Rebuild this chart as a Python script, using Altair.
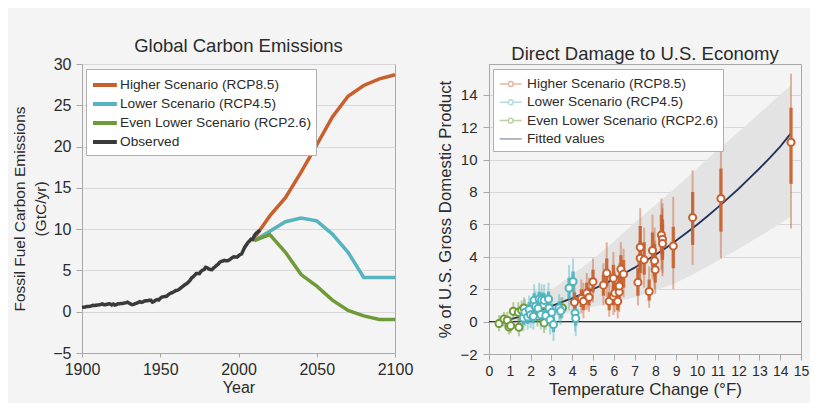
import altair as alt
import pandas as pd

FONT = "Liberation Sans"
BG = "#f4f4f4"
TXT = "#2b2b2b"

# ---------------- Left panel data ----------------
obs_years = list(range(1900, 2015))
obs_values = [
    0.53, 0.55, 0.57, 0.62, 0.62, 0.66, 0.71, 0.78, 0.75, 0.79,
    0.82, 0.84, 0.88, 0.94, 0.85, 0.84, 0.90, 0.96, 0.94, 0.81,
    0.93, 0.80, 0.85, 0.97, 0.96, 0.98, 0.98, 1.06, 1.07, 1.15,
    1.05, 0.94, 0.85, 0.89, 0.97, 1.03, 1.13, 1.21, 1.14, 1.19,
    1.30, 1.33, 1.34, 1.39, 1.38, 1.16, 1.24, 1.39, 1.47, 1.42,
    1.63, 1.77, 1.80, 1.84, 1.87, 2.04, 2.18, 2.27, 2.33, 2.46,
    2.58, 2.59, 2.70, 2.85, 3.01, 3.15, 3.31, 3.41, 3.59, 3.80,
    4.08, 4.23, 4.40, 4.64, 4.64, 4.62, 4.88, 5.03, 5.11, 5.39,
    5.33, 5.17, 5.11, 5.09, 5.28, 5.44, 5.61, 5.75, 5.97, 6.10,
    6.13, 6.22, 6.16, 6.16, 6.27, 6.40, 6.54, 6.65, 6.64, 6.61,
    6.77, 6.93, 7.00, 7.42, 7.81, 8.09, 8.37, 8.57, 8.78, 8.74,
    9.17, 9.46, 9.61, 9.77, 9.86,
]
scen_years = [2010, 2020, 2030, 2040, 2050, 2060, 2070, 2080, 2090, 2100]
rcp85 = [8.9, 11.6, 13.8, 16.9, 20.2, 23.6, 26.1, 27.4, 28.2, 28.7]
rcp45 = [8.6, 9.75, 10.9, 11.35, 11.0, 9.4, 7.2, 4.15, 4.15, 4.15]
rcp26 = [8.6, 9.35, 7.2, 4.5, 3.1, 1.4, 0.15, -0.5, -0.95, -0.95]

left_names = ["Higher Scenario (RCP8.5)", "Lower Scenario (RCP4.5)",
              "Even Lower Scenario (RCP2.6)", "Observed"]
left_colors = ["#c8602e", "#56b4be", "#6e9a37", "#3a3a3a"]
left_yticks = [-5, 0, 5, 10, 15, 20, 25, 30]
left_xticks = [1900, 1950, 2000, 2050, 2100]

# ---------------- Right panel data ----------------
o_T = [4.11, 4.44, 4.54, 4.70, 4.81, 5.00, 5.50, 5.66, 5.78, 5.98, 5.98, 6.05, 6.19, 6.26, 6.26, 6.34,
       6.47, 7.16, 7.27, 7.27, 7.46, 7.70, 7.86, 7.96, 7.99, 8.29, 8.34, 8.34, 8.86, 9.79, 11.15, 14.52]
o_v = [1.19, 1.43, 1.25, 1.76, 1.50, 2.46, 2.25, 2.99, 1.25, 1.56, 2.68, 1.76, 1.25, 1.82, 2.20, 3.24,
       2.93, 2.42, 4.59, 3.91, 3.81, 1.86, 4.39, 3.75, 3.20, 5.35, 5.08, 4.82, 4.67, 6.43, 7.60, 11.07]
o_tlo = [0.3, 0.5, 0.2, 0.7, 0.6, 1.2, 1.0, 1.5, 0.3, 0.4, 1.3, 0.6, 0.2, 0.6, 0.9, 1.7,
         1.5, 1.0, 2.6, 2.2, 2.1, 0.85, 2.6, 2.0, 1.7, 3.2, 3.0, 2.8, 2.0, 3.5, 3.9, 5.75]
o_thi = [2.3, 2.6, 2.4, 3.0, 2.7, 3.9, 3.6, 4.9, 2.4, 2.8, 4.3, 3.1, 2.5, 3.2, 3.6, 4.9,
         4.5, 4.1, 7.0, 5.9, 5.8, 3.4, 6.6, 5.8, 5.0, 7.6, 7.3, 7.0, 7.7, 9.34, 11.08, 15.3]
o_klo = [0.7, 0.9, 0.7, 1.2, 1.0, 1.8, 1.6, 2.2, 0.7, 1.0, 1.9, 1.1, 0.7, 1.2, 1.5, 2.4,
         2.1, 1.6, 3.4, 3.0, 2.9, 1.3, 3.4, 2.8, 2.4, 4.2, 4.0, 3.8, 3.3, 4.73, 5.55, 8.5]
o_khi = [1.8, 2.0, 1.8, 2.4, 2.1, 3.2, 2.9, 3.9, 1.8, 2.2, 3.5, 2.4, 1.9, 2.5, 2.9, 4.1,
         3.8, 3.3, 5.9, 5.0, 4.9, 2.6, 5.5, 4.8, 4.1, 6.6, 6.3, 6.0, 5.85, 8.0, 9.45, 13.2]

c_T = [1.65, 1.73, 1.86, 1.93, 2.00, 2.13, 2.17, 2.24, 2.36, 2.41, 2.49, 2.53, 2.65, 2.73, 2.86, 2.89,
       2.94, 3.02, 3.10, 3.37, 3.45, 3.85, 4.04, 4.14, 4.17]
c_v = [0.22, 0.57, 0.29, 0.74, 0.42, 0.33, 1.31, 0.95, 0.82, 1.39, 0.43, 1.34, 1.31, 0.37, 1.39, 0.84,
       0.12, 0.57, -0.18, 0.83, 0.66, 2.07, 2.48, 0.53, 0.20]
c_tlo = [-0.6, -0.3, -0.5, -0.1, -0.4, -0.5, 0.3, 0.0, -0.1, 0.3, -0.5, 0.3, 0.3, -0.5, 0.3, -0.1,
         -0.8, -0.4, -1.2, -0.1, -0.2, 0.7, 1.0, -0.6, -0.9]
c_thi = [1.0, 1.4, 1.1, 1.6, 1.3, 1.2, 2.3, 1.9, 1.7, 2.4, 1.3, 2.3, 2.3, 1.2, 2.4, 1.7,
         1.0, 1.5, 0.8, 1.7, 1.5, 3.5, 3.9, 1.6, 1.3]
c_klo = [-0.2, 0.1, -0.15, 0.3, 0.0, -0.1, 0.85, 0.5, 0.4, 0.95, 0.0, 0.9, 0.85, -0.1, 0.95, 0.4,
         -0.3, 0.1, -0.65, 0.4, 0.2, 1.4, 1.8, 0.05, -0.25]
c_khi = [0.65, 1.0, 0.75, 1.2, 0.85, 0.8, 1.75, 1.4, 1.25, 1.85, 0.9, 1.8, 1.75, 0.8, 1.85, 1.3,
         0.55, 1.0, 0.3, 1.25, 1.1, 2.7, 3.1, 1.0, 0.65]

g_T = [0.48, 0.72, 0.88, 0.96, 1.04, 1.17, 1.41, 1.44, 1.57, 1.68, 2.33, 2.61, 2.65, 3.53]
g_v = [-0.12, 0.16, 0.08, -0.33, -0.25, 0.64, 0.57, -0.35, 0.70, 0.84, 0.33, 1.04, -0.08, 0.84]
g_tlo = [-0.6, -0.3, -0.4, -0.8, -0.7, 0.1, 0.0, -0.9, 0.1, 0.2, -0.3, 0.3, -0.7, 0.2]
g_thi = [0.4, 0.6, 0.6, 0.2, 0.3, 1.2, 1.2, 0.2, 1.3, 1.5, 1.0, 1.8, 0.6, 1.5]
g_klo = [-0.37, -0.09, -0.17, -0.58, -0.5, 0.39, 0.32, -0.6, 0.45, 0.59, 0.08, 0.79, -0.33, 0.59]
g_khi = [0.13, 0.41, 0.33, -0.08, 0.0, 0.89, 0.82, -0.1, 0.95, 1.09, 0.58, 1.29, 0.17, 1.09]

fit_T = [0.9, 1.5, 2, 2.5, 3, 3.5, 4, 4.5, 5, 5.5, 6, 6.5, 7, 7.5, 8, 8.5, 9, 9.5, 10,
         10.5, 11, 11.5, 12, 12.5, 13, 13.5, 14, 14.5]
fit_v = [0.10, 0.30, 0.48, 0.70, 0.95, 1.20, 1.45, 1.72, 2.00, 2.30, 2.62, 2.97, 3.33, 3.72,
         4.13, 4.55, 5.00, 5.48, 5.98, 6.50, 7.05, 7.62, 8.20, 8.82, 9.45, 10.10, 10.80, 11.60]
band_T = [0.9, 1.5, 2, 3, 4, 5, 6, 7, 8, 9, 10, 11, 12, 13, 14, 14.5]
band_hi = [0.12, 0.55, 1.0, 1.95, 2.9, 3.85, 4.95, 6.1, 7.2, 8.3, 9.45, 10.6, 11.7, 12.85, 14.0, 14.55]
band_lo = [0.08, -0.1, 0.0, 0.3, 0.6, 0.92, 1.2, 1.5, 1.9, 2.4, 3.05, 3.75, 4.5, 5.25, 6.05, 6.47]
zero_level = [0]

right_names = ["Higher Scenario (RCP8.5)", "Lower Scenario (RCP4.5)",
               "Even Lower Scenario (RCP2.6)", "Fitted values"]
right_colors = ["#c8602e", "#4fb5bf", "#6e9a37", "#23325c"]
right_yticks = [-2, 0, 2, 4, 6, 8, 10, 12, 14]
right_xticks = list(range(0, 16))

# ---------------- Left chart ----------------
scen_df = pd.DataFrame({
    "year": scen_years * 3,
    "value": rcp85 + rcp45 + rcp26,
    "series": [left_names[0]] * len(scen_years) + [left_names[1]] * len(scen_years)
              + [left_names[2]] * len(scen_years),
})
obs_df = pd.DataFrame({"year": obs_years, "value": obs_values, "series": left_names[3]})

lscale = alt.Scale(domain=left_names, range=left_colors)
left_legend = alt.Legend(
    title=None, orient="none", legendX=4, legendY=5, fillColor="white",
    strokeColor="#b0b0b0", padding=5, labelFont=FONT, labelFontSize=13.7,
    labelColor=TXT, symbolType="M-1.0,0H1.65", symbolSize=324, symbolStrokeWidth=4,
    rowPadding=0, labelOffset=7, labelLimit=400,
)
lx_scale = alt.Scale(domain=[1900, 2100], nice=False)
lx_axis = alt.Axis(values=left_xticks, format="d", title="Year", grid=False,
                   labelFontSize=16, titleFontSize=16, tickSize=4,
                   labelPadding=4, titlePadding=2, labelOverlap=False, labelFlush=False)
ly_scale = alt.Scale(domain=[-5, 30], nice=False)
ly_axis = alt.Axis(values=left_yticks, title=["Fossil Fuel Carbon Emissions", "(GtC/yr)"],
                   grid=True, labelFontSize=16, titleFontSize=15.5, tickSize=6,
                   labelPadding=5, titlePadding=4, titleLineHeight=21, labelOverlap=False)

scen = alt.Chart(scen_df).mark_line(strokeWidth=3.5).encode(
    x=alt.X("year:Q", scale=lx_scale, axis=lx_axis),
    y=alt.Y("value:Q", scale=ly_scale, axis=ly_axis),
    color=alt.Color("series:N", scale=lscale, legend=left_legend))
obs = alt.Chart(obs_df).mark_line(strokeWidth=3.5).encode(
    x=alt.X("year:Q", scale=lx_scale, axis=lx_axis),
    y=alt.Y("value:Q", scale=ly_scale, axis=ly_axis),
    color=alt.Color("series:N", scale=lscale, legend=left_legend))

left = alt.layer(scen, obs).properties(
    width=313, height=289,
    title=alt.Title("Global Carbon Emissions", font=FONT, fontSize=18.5, fontWeight="normal",
                    color=TXT, offset=1, frame="group"),
)

# ---------------- Right chart ----------------
def scen_frame(T, v, tlo, thi, klo, khi, col):
    return pd.DataFrame({"T": T, "v": v, "tlo": tlo, "thi": thi, "klo": klo, "khi": khi,
                         "col": col})

pts_df = pd.concat([
    scen_frame(g_T, g_v, g_tlo, g_thi, g_klo, g_khi, right_colors[2]),
    scen_frame(c_T, c_v, c_tlo, c_thi, c_klo, c_khi, right_colors[1]),
    scen_frame(o_T, o_v, o_tlo, o_thi, o_klo, o_khi, right_colors[0]),
], ignore_index=True)
fit_df = pd.DataFrame({"T": fit_T, "v": fit_v})
band_df = pd.DataFrame({"T": band_T, "lo": band_lo, "hi": band_hi})
zero_df = pd.DataFrame({"z": zero_level})
leg_df = pd.DataFrame({"series": right_names, "T": [0.0] * 4, "v": [0.0] * 4})

rx_scale = alt.Scale(domain=[0, 15], nice=False)
rx_axis = alt.Axis(values=right_xticks, title="Temperature Change (°F)", grid=False,
                   labelFontSize=14, titleFontSize=17, tickSize=6,
                   labelPadding=4, titlePadding=3, labelOverlap=False, labelFlush=False)
ry_scale = alt.Scale(domain=[-2, 15.9], nice=False)
ry_axis = alt.Axis(values=right_yticks, title="% of U.S. Gross Domestic Product", grid=True,
                   labelFontSize=15, titleFontSize=16.8, tickSize=6, labelPadding=6,
                   titlePadding=5, labelOverlap=False)


def RX(f):
    return alt.X(f, scale=rx_scale, axis=rx_axis)


def RY(f):
    return alt.Y(f, scale=ry_scale, axis=ry_axis)


band = alt.Chart(band_df).mark_area(color="#e3e3e3").encode(
    x=RX("T:Q"), y=RY("lo:Q"), y2="hi:Q")
zero = alt.Chart(zero_df).mark_rule(color="#333333", strokeWidth=1.3).encode(y=RY("z:Q"))
fit = alt.Chart(fit_df).mark_line(color=right_colors[3], strokeWidth=1.8).encode(
    x=RX("T:Q"), y=RY("v:Q"))
thin = alt.Chart(pts_df).mark_rule(strokeWidth=2, opacity=0.45).encode(
    x=RX("T:Q"), y=RY("tlo:Q"), y2="thi:Q", stroke=alt.Stroke("col:N", scale=None))
thick = alt.Chart(pts_df).mark_rule(strokeWidth=3.3, opacity=0.9).encode(
    x=RX("T:Q"), y=RY("klo:Q"), y2="khi:Q", stroke=alt.Stroke("col:N", scale=None))
pts = alt.Chart(pts_df).mark_point(shape="circle", filled=False, fill="white", fillOpacity=1,
                                   opacity=1, size=50, strokeWidth=2).encode(
    x=RX("T:Q"), y=RY("v:Q"), stroke=alt.Stroke("col:N", scale=None))

circ = "M-0.92,0H0.03M0.57,0H1.52M0.03,0A0.27,0.27,0,1,1,0.57,0A0.27,0.27,0,1,1,0.03,0Z"
lin = "M-0.92,0H1.52"
right_legend = alt.Legend(
    title=None, orient="none", legendX=4, legendY=5, fillColor="white",
    strokeColor="#b0b0b0", padding=5, labelFont=FONT, labelFontSize=13.7, labelColor=TXT,
    symbolSize=324, symbolStrokeWidth=1.5, symbolFillColor="white", rowPadding=1.3,
    labelOffset=9, labelLimit=400,
)
leg = alt.Chart(leg_df).transform_filter("false").mark_point(
    filled=False, fill="white", size=324, strokeWidth=1.5, opacity=1).encode(
    x=RX("T:Q"), y=RY("v:Q"),
    stroke=alt.Stroke("series:N", scale=alt.Scale(domain=right_names, range=right_colors),
                      legend=right_legend),
    shape=alt.Shape("series:N", scale=alt.Scale(domain=right_names, range=[circ, circ, circ, lin]),
                    legend=right_legend),
)

right = alt.layer(band, zero, fit, thin, thick, pts, leg).properties(
    width=312, height=290,
    title=alt.Title("Direct Damage to U.S. Economy", font=FONT, fontSize=18.5, fontWeight="normal",
                    color=TXT, offset=1, frame="group"),
)

chart = alt.hconcat(left, right, spacing=23).resolve_scale(
    color="independent", stroke="independent", shape="independent"
).resolve_legend(
    color="independent", stroke="independent", shape="independent"
).properties(
    background=BG,
    padding={"left": 4, "top": 28, "right": 0, "bottom": 5},
).configure_view(
    stroke="#a8a8a8", strokeWidth=1
).configure_axis(
    labelFont=FONT, titleFont=FONT, labelColor=TXT, titleColor=TXT,
    titleFontWeight="normal", domainColor="#a8a8a8", tickColor="#a8a8a8",
    gridColor="#d8d8d8", labelOverlap=False,
)

chart.save("out.html", embed_options={"renderer": "svg", "actions": False})
